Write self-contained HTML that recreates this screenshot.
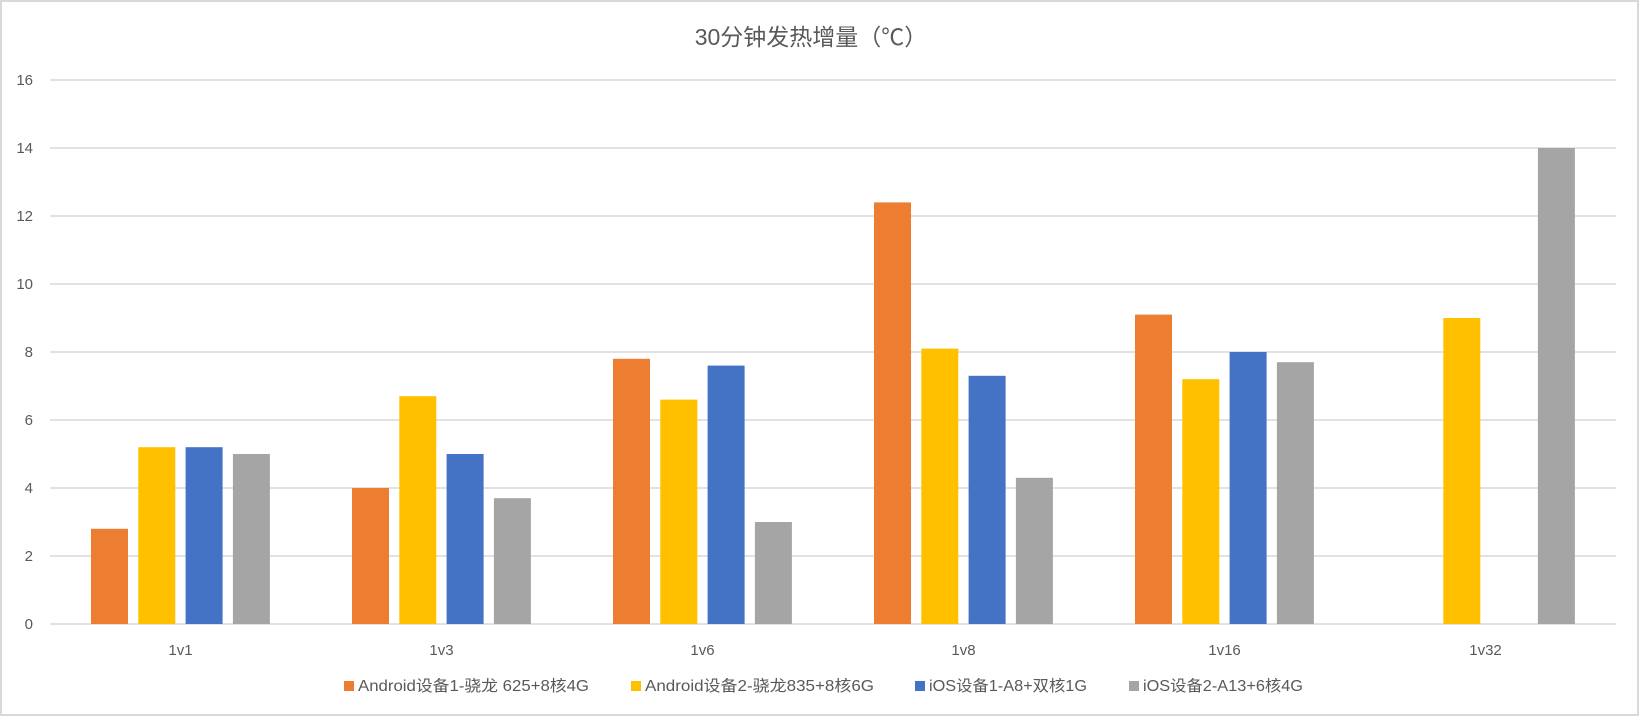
<!DOCTYPE html>
<html><head><meta charset="utf-8"><style>
html,body{margin:0;padding:0;background:#fff;}
svg{display:block;font-family:"Liberation Sans","Noto Sans CJK SC",sans-serif;}
</style></head><body>
<svg width="1640" height="718" viewBox="0 0 1640 718" xmlns="http://www.w3.org/2000/svg">
<rect x="1" y="1" width="1637" height="714" fill="#fff" stroke="#d9d9d9" stroke-width="2"/>
<text x="811" y="45" text-anchor="middle" font-size="23" fill="#595959">30分钟发热增量（℃）</text>
<g stroke="#d9d9d9" stroke-width="1.5">
<line x1="50" x2="1616" y1="80" y2="80"/><line x1="50" x2="1616" y1="148" y2="148"/>
<line x1="50" x2="1616" y1="216" y2="216"/><line x1="50" x2="1616" y1="284" y2="284"/>
<line x1="50" x2="1616" y1="352" y2="352"/><line x1="50" x2="1616" y1="420" y2="420"/>
<line x1="50" x2="1616" y1="488" y2="488"/><line x1="50" x2="1616" y1="556" y2="556"/>
<line x1="50" x2="1616" y1="624" y2="624"/>
</g>
<g font-size="15" fill="#595959" text-anchor="end">
<text x="33" y="85">16</text><text x="33" y="153">14</text><text x="33" y="221">12</text>
<text x="33" y="289">10</text><text x="33" y="357">8</text><text x="33" y="425">6</text>
<text x="33" y="493">4</text><text x="33" y="561">2</text><text x="33" y="629">0</text>
</g>
<g>
<rect x="91" y="528.8" width="37" height="95.2" fill="#ed7d31"/>
<rect x="138.3" y="447.2" width="37" height="176.8" fill="#ffc000"/>
<rect x="185.6" y="447.2" width="37" height="176.8" fill="#4472c4"/>
<rect x="232.9" y="454" width="37" height="170" fill="#a5a5a5"/>

<rect x="352" y="488" width="37" height="136" fill="#ed7d31"/>
<rect x="399.3" y="396.2" width="37" height="227.8" fill="#ffc000"/>
<rect x="446.6" y="454" width="37" height="170" fill="#4472c4"/>
<rect x="493.9" y="498.2" width="37" height="125.8" fill="#a5a5a5"/>

<rect x="613" y="358.8" width="37" height="265.2" fill="#ed7d31"/>
<rect x="660.3" y="399.6" width="37" height="224.4" fill="#ffc000"/>
<rect x="707.6" y="365.6" width="37" height="258.4" fill="#4472c4"/>
<rect x="754.9" y="522" width="37" height="102" fill="#a5a5a5"/>

<rect x="874" y="202.4" width="37" height="421.6" fill="#ed7d31"/>
<rect x="921.3" y="348.6" width="37" height="275.4" fill="#ffc000"/>
<rect x="968.6" y="375.8" width="37" height="248.2" fill="#4472c4"/>
<rect x="1015.9" y="477.8" width="37" height="146.2" fill="#a5a5a5"/>

<rect x="1135" y="314.6" width="37" height="309.4" fill="#ed7d31"/>
<rect x="1182.3" y="379.2" width="37" height="244.8" fill="#ffc000"/>
<rect x="1229.6" y="352" width="37" height="272" fill="#4472c4"/>
<rect x="1276.9" y="362.2" width="37" height="261.8" fill="#a5a5a5"/>

<rect x="1443.3" y="318" width="37" height="306" fill="#ffc000"/>
<rect x="1537.9" y="148" width="37" height="476" fill="#a5a5a5"/>
</g>
<g font-size="15" fill="#595959" text-anchor="middle">
<text x="180.5" y="655">1v1</text><text x="441.5" y="655">1v3</text><text x="702.5" y="655">1v6</text>
<text x="963.5" y="655">1v8</text><text x="1224.5" y="655">1v16</text><text x="1485.5" y="655">1v32</text>
</g>
<g font-size="15.5" fill="#595959">
<rect x="344" y="681" width="10" height="10" fill="#ed7d31"/><text x="358" y="691" textLength="231" lengthAdjust="spacingAndGlyphs">Android设备1-骁龙 625+8核4G</text>
<rect x="631" y="681" width="10" height="10" fill="#ffc000"/><text x="645" y="691" textLength="229" lengthAdjust="spacingAndGlyphs">Android设备2-骁龙835+8核6G</text>
<rect x="915" y="681" width="10" height="10" fill="#4472c4"/><text x="929" y="691" textLength="158" lengthAdjust="spacingAndGlyphs">iOS设备1-A8+双核1G</text>
<rect x="1129" y="681" width="10" height="10" fill="#a5a5a5"/><text x="1143" y="691" textLength="160" lengthAdjust="spacingAndGlyphs">iOS设备2-A13+6核4G</text>
</g>
</svg>
</body></html>
